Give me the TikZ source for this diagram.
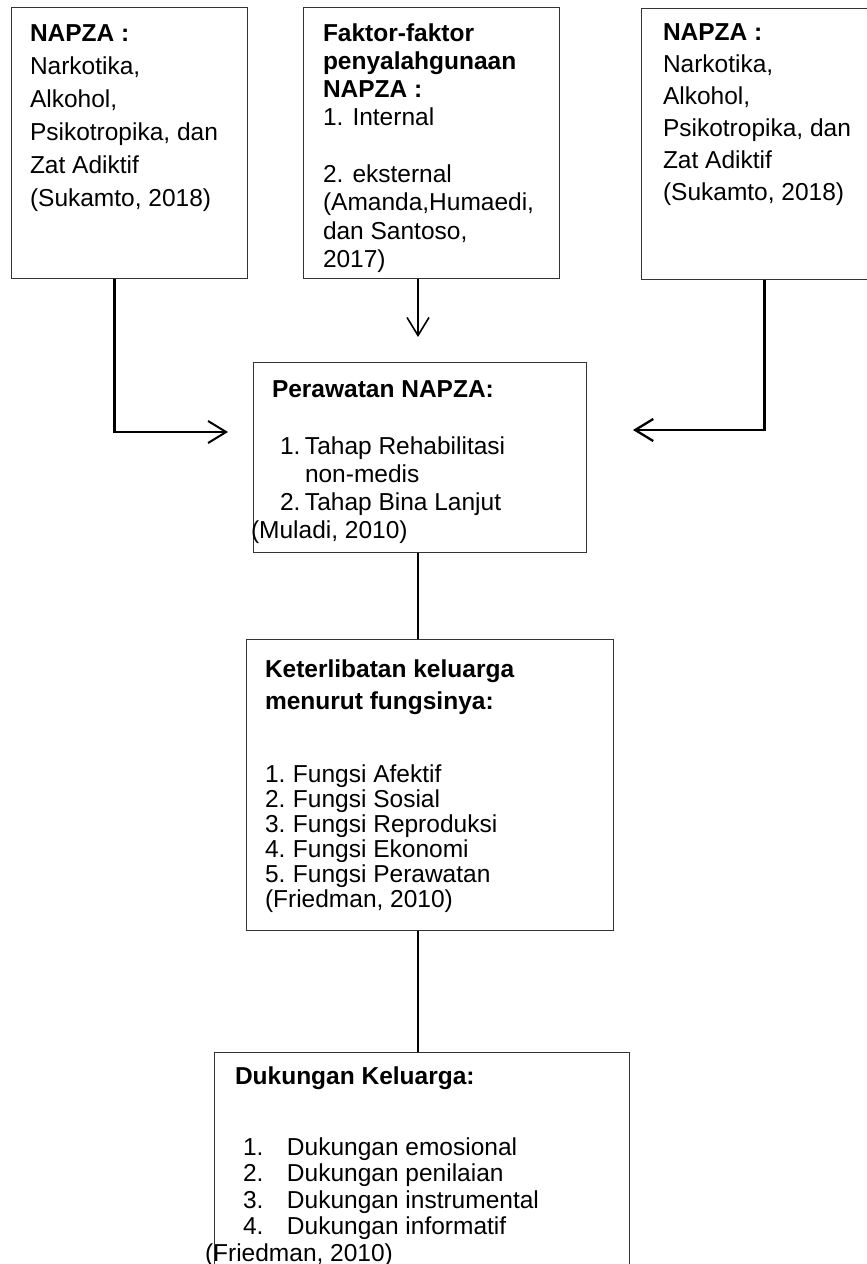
\documentclass[tikz,border=0pt]{standalone}
\usepackage{fontspec}
\setmainfont{Liberation Sans}
\usetikzlibrary{arrows.meta}
\newcommand{\fsz}[1]{\fontsize{24.5}{#1}\selectfont}
\newcommand{\numl}[2]{\makebox[#1][l]{#2}}
\begin{document}
\begin{tikzpicture}[x=1pt,y=-1pt,
  boxnode/.style={draw=black!80, line width=1pt, rectangle, inner sep=0pt, anchor=north west},
  txt/.style={anchor=base west, inner sep=0pt, outer sep=0pt},
  tip/.style={-{Straight Barb[length=18pt,width=22pt]}}
]
\path[use as bounding box, clip] (0,0) rectangle (867,1264);
\fill[white] (0,0) rectangle (867,1264);

% boxes
\node[boxnode, minimum width=236pt, minimum height=271pt] (b1) at (11,7) {};
\node[boxnode, minimum width=256pt, minimum height=271pt] (b2) at (303,7) {};
\node[boxnode, minimum width=260pt, minimum height=271pt] (b3) at (641,8) {};
\node[boxnode, minimum width=333pt, minimum height=190pt] (per) at (253,362) {};
\node[boxnode, minimum width=367pt, minimum height=291pt] (ket) at (246,639) {};
\node[boxnode, minimum width=415pt, minimum height=260pt] (duk) at (214,1052) {};

% texts
\node[txt] (t1) at (30,41) {\begin{minipage}[t]{230pt}\fsz{33}\textbf{NAPZA :}\\Narkotika,\\Alkohol,\\Psikotropika, dan\\Zat Adiktif\\(Sukamto, 2018)\end{minipage}};
\node[txt] (t2) at (323,41) {\begin{minipage}[t]{235pt}\fsz{28.3}\textbf{Faktor-faktor}\\\textbf{penyalahgunaan}\\\textbf{NAPZA :}\\1. Internal\\[28.3pt]2. eksternal\\(Amanda,Humaedi,\\dan Santoso,\\2017)\end{minipage}};
\node[txt] (t3) at (663,40) {\begin{minipage}[t]{230pt}\fsz{32}\textbf{NAPZA :}\\Narkotika,\\Alkohol,\\Psikotropika, dan\\Zat Adiktif\\(Sukamto, 2018)\end{minipage}};

\node[txt] (t4h) at (272,397) {\fsz{28}\textbf{Perawatan NAPZA:}};
\node[txt] (t4l) at (280,454) {\begin{minipage}[t]{300pt}\fsz{28}\numl{25pt}{1.}Tahap Rehabilitasi\\\hspace*{25pt}non-medis\\\numl{25pt}{2.}Tahap Bina Lanjut\end{minipage}};
\node[txt] (t4c) at (251,538) {\fsz{28}(Muladi, 2010)};

\node[txt] (t5h) at (265,677) {\begin{minipage}[t]{340pt}\fsz{32}\textbf{Keterlibatan keluarga}\\\textbf{menurut fungsinya:}\end{minipage}};
\node[txt] (t5l) at (265,782) {\begin{minipage}[t]{340pt}\fsz{25}\numl{28pt}{1.}Fungsi Afektif\\\numl{28pt}{2.}Fungsi Sosial\\\numl{28pt}{3.}Fungsi Reproduksi\\\numl{28pt}{4.}Fungsi Ekonomi\\\numl{28pt}{5.}Fungsi Perawatan\\(Friedman, 2010)\end{minipage}};

\node[txt] (t6h) at (235,1084) {\fsz{28}\textbf{Dukungan Keluarga:}};
\node[txt] (t6l) at (243,1155) {\begin{minipage}[t]{380pt}\fsz{26.5}\numl{44pt}{1.}Dukungan emosional\\\numl{44pt}{2.}Dukungan penilaian\\\numl{44pt}{3.}Dukungan instrumental\\\numl{44pt}{4.}Dukungan informatif\end{minipage}};
\node[txt] (t6c) at (205,1261) {\fsz{26}(Friedman, 2010)};

% connectors
\coordinate (lx) at (114,432);
\coordinate (rx) at (764,430);
\coordinate (mx) at (418,0);
\draw[line width=3pt] (b1.south -| lx) -- ([yshift=-1pt]lx);
\draw[line width=2pt, tip, shorten >=25pt] (lx) -- (lx -| per.west);
\draw[line width=3pt] (b3.south -| rx) -- ([yshift=-1pt]rx);
\draw[line width=2.3pt, tip, shorten >=46pt] (rx) -- (rx -| per.east);
\draw[line width=1.6pt, tip, shorten >=25pt] (b2.south -| mx) -- (per.north -| mx);
\draw[line width=2pt] (per.south -| mx) -- (ket.north -| mx);
\draw[line width=2.7pt] (ket.south -| mx) -- (duk.north -| mx);
\end{tikzpicture}
\end{document}
